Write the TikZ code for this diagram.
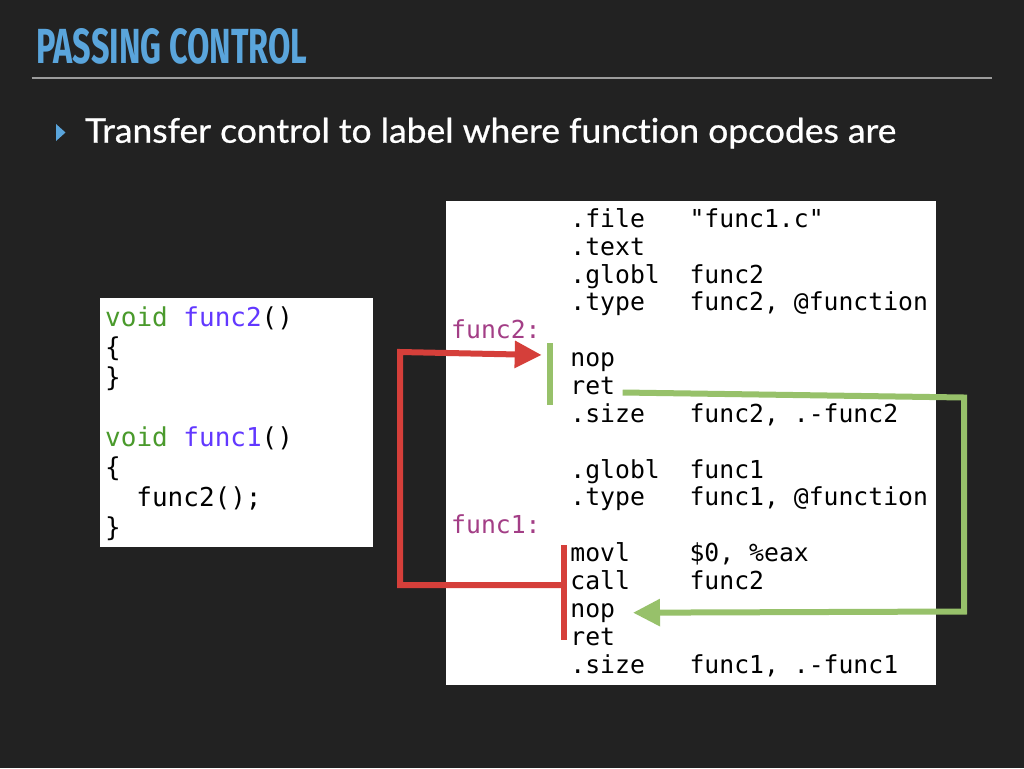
\documentclass[tikz,border=0pt]{standalone}
\usepackage{fontspec}
\usepackage{graphicx}
\usetikzlibrary{arrows.meta}
\newfontfamily\codefont{DejaVu Sans Mono}
\newfontfamily\titlefont{Fira Sans}
\newfontfamily\bodyfont{Lato}[Ligatures=NoCommon, FakeBold=0.7]
\definecolor{slidebg}{HTML}{222222}
\definecolor{titleblue}{HTML}{5AA5DC}
\definecolor{rulegray}{HTML}{9C9C9C}
\definecolor{kwgreen}{HTML}{4A9A2C}
\definecolor{fnpurple}{HTML}{6238FF}
\definecolor{labelmag}{HTML}{A33E86}
\definecolor{callred}{HTML}{D53F3A}
\definecolor{retgreen}{HTML}{97C16A}
% one tab stop = 8 columns of 14.9pt
\newcommand\tabcol[1]{\makebox[119.2pt][l]{#1}}
\tikzset{
  asm/.style={anchor=base west, inner sep=0pt, text=black,
    font=\codefont\fontsize{24.75pt}{28pt}\selectfont},
  asmlabel/.style={asm, text=labelmag},
  csrc/.style={anchor=base west, inner sep=0pt, text=black,
    font=\codefont\fontsize{26pt}{30pt}\selectfont},
  panel/.style={fill=white, draw=none},
  bar/.style={inner sep=0pt, minimum width=6pt},
  flow/.style={line width=6pt, line join=miter,
    -{Triangle[length=27pt,width=26pt]}},
}
\begin{document}
\begin{tikzpicture}[x=1pt,y=-1pt]
\useasboundingbox[fill=slidebg] (0,0) rectangle (1024,768);

% heading
\node[anchor=north west, inner sep=0pt, text=titleblue] (title) at (36,28.3)
  {\resizebox{271pt}{35pt}{\titlefont\bfseries PASSING CONTROL}};
\draw[rulegray, line width=2pt] (31.7,78.3) -- (992,78.3);

% bullet
\fill[titleblue] (56,124) -- (65.5,132.5) -- (56,141) -- cycle;
\node[anchor=base west, inner sep=0pt, text=white] (point) at (85,142.7)
  {\resizebox{811pt}{\height}{\bodyfont\fontsize{34pt}{40pt}\selectfont Transfer control to label where function opcodes are}};

% C source panel
\fill[panel] (100,298.3) rectangle (372.7,546.7);
\node[csrc] (c0) at (105,326.7) {\textcolor{kwgreen}{void} \textcolor{fnpurple}{func2}()};
\node[csrc] (c1) at (105,356.7) {\{};
\node[csrc] (c2) at (105,386.7) {\}};
\node[csrc] (c4) at (105,446.7) {\textcolor{kwgreen}{void} \textcolor{fnpurple}{func1}()};
\node[csrc] (c5) at (105,476.7) {\{};
\node[csrc] (c6) at (105,506.7) {\hspace*{31.2pt}func2();};
\node[csrc] (c7) at (105,536.7) {\}};

% assembly panel
\fill[panel] (445.5,201) rectangle (936,685);
\node[asm] (a0)  at (570.2,227.3) {\tabcol{.file}"func1.c"};
\node[asm] (a1)  at (570.2,255.2) {.text};
\node[asm] (a2)  at (570.2,283.0) {\tabcol{.globl}func2};
\node[asm] (a3)  at (570.2,310.9) {\tabcol{.type}func2, @function};
\node[asmlabel] (func2) at (451,338.7) {func2:};
\node[asm] (nop2) at (570.2,366.6) {nop};
\node[asm] (ret2) at (570.2,394.5) {ret};
\node[asm] (a7)  at (570.2,422.3) {\tabcol{.size}func2, .-func2};
\node[asm] (a9)  at (570.2,478.0) {\tabcol{.globl}func1};
\node[asm] (a10) at (570.2,505.9) {\tabcol{.type}func1, @function};
\node[asmlabel] (func1) at (451,533.8) {func1:};
\node[asm] (movl) at (570.2,561.6) {\tabcol{movl}\$0, \%eax};
\node[asm] (call) at (570.2,589.5) {\tabcol{call}func2};
\node[asm] (nop1) at (570.2,617.4) {nop};
\node[asm] (ret1) at (570.2,645.2) {ret};
\node[asm] (a16) at (570.2,673.1) {\tabcol{.size}func1, .-func1};

% markers beside the two instruction blocks
\node[bar, fill=retgreen, minimum height=61.6pt, anchor=north] (body2) at (550,342.7) {};
\node[bar, fill=callred, minimum height=95pt, anchor=north] (body1) at (564,545) {};

% call: jump into func2
\coordinate (callout) at (400,585);
\coordinate (callup)  at (400,352);
\coordinate (entry2)  at (541.7,355);
\draw[flow, callred] (body1.west |- callout) -- (callout) -- (callup) -- (entry2);

% ret: back to the instruction after the call
\coordinate (retstart) at (622.7,392.5);
\coordinate (retright) at (964,397.5);
\coordinate (retdown)  at (964,611.5);
\coordinate (back1)    at (633,612.7);
\draw[flow, retgreen] (retstart) -- (retright) -- (retdown) -- (back1);
\end{tikzpicture}
\end{document}
